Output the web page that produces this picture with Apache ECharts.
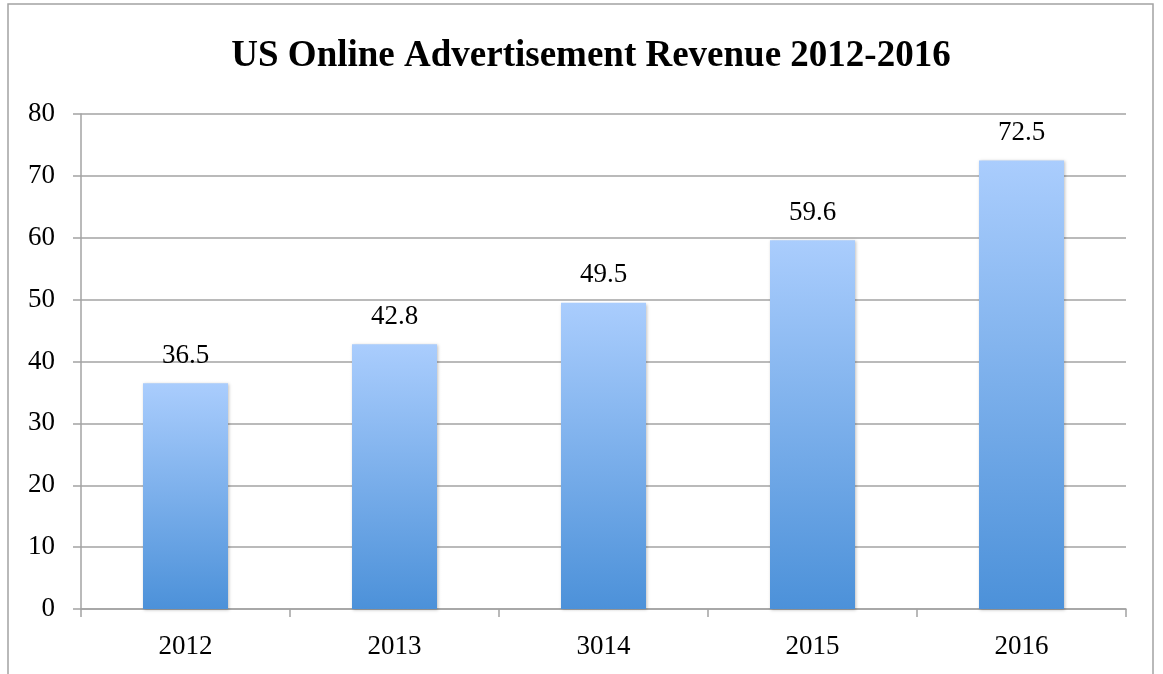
<!DOCTYPE html>
<html>
<head>
<meta charset="utf-8">
<script src="https://cdn.jsdelivr.net/npm/echarts@6/dist/echarts.min.js"></script>
<style>
html,body{margin:0;padding:0;background:#fff;}
#c{width:1163px;height:674px;}
</style>
</head>
<body>
<div id="c"></div>
<script>
var titleText = 'US Online Advertisement Revenue 2012-2016';
var categories = ['2012', '2013', '3014', '2015', '2016'];
var revenue = [36.5, 42.8, 49.5, 59.6, 72.5];

var chart = echarts.init(document.getElementById('c'));
var axisColor = '#a3a3a3';
var fontFam = '"Liberation Serif", "Times New Roman", serif';
chart.setOption({
  backgroundColor: '#fff',
  animation: false,
  graphic: [{
    type: 'rect',
    shape: { x: 8, y: 4, width: 1145, height: 700 },
    style: { fill: 'none', stroke: axisColor, lineWidth: 1.5 },
    silent: true
  }],
  title: {
    text: titleText,
    left: 586,
    top: 33,
    textAlign: 'center',
    textStyle: { fontFamily: fontFam, fontWeight: 'bold', fontSize: 37, color: '#000' }
  },
  grid: { left: 81, right: 37, top: 114, bottom: 65 },
  xAxis: {
    type: 'category',
    data: categories,
    axisLine: { show: true, lineStyle: { color: axisColor, width: 1.5 } },
    axisTick: { show: true, length: 8, interval: 0, lineStyle: { color: axisColor, width: 1.5 } },
    axisLabel: { margin: 24, fontFamily: fontFam, fontSize: 27, color: '#000' },
    splitLine: { show: false }
  },
  yAxis: {
    type: 'value',
    min: 0,
    max: 80,
    interval: 10,
    axisLine: { show: true, lineStyle: { color: axisColor, width: 1.5 } },
    axisTick: { show: true, length: 8, lineStyle: { color: axisColor, width: 1.5 } },
    axisLabel: { margin: 26, fontFamily: fontFam, fontSize: 27, color: '#000' },
    splitLine: { show: true, lineStyle: { color: axisColor, width: 1.5 } }
  },
  series: [{
    type: 'bar',
    data: revenue,
    barWidth: 85,
    itemStyle: {
      color: new echarts.graphic.LinearGradient(0, 0, 0, 1, [
        { offset: 0, color: '#aacdfd' },
        { offset: 1, color: '#4c91d9' }
      ]),
      shadowColor: 'rgba(0,0,0,0.25)',
      shadowBlur: 3,
      shadowOffsetX: 1,
      shadowOffsetY: 1
    },
    label: {
      show: true,
      position: 'top',
      distance: 14,
      fontFamily: fontFam,
      fontSize: 27,
      color: '#000'
    }
  }]
});
</script>
</body>
</html>
